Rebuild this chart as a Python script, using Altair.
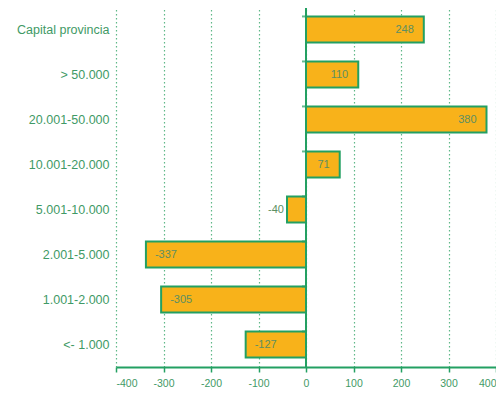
import altair as alt
import pandas as pd

labels = ["Capital provincia", "> 50.000", "20.001-50.000", "10.001-20.000",
          "5.001-10.000", "2.001-5.000", "1.001-2.000", "<- 1.000"]
values = [248, 110, 380, 71, -40, -337, -305, -127]
x_ticks = [-400, -300, -200, -100, 0, 100, 200, 300, 400]

df = pd.DataFrame({"cat": labels, "value": values})

GREEN = "#23a062"
TXT = "#3f9a66"
VTXT = "#5c8f62"
FILL = "#f8b21a"

y = alt.Y("cat:N", sort=labels, title=None,
          scale=alt.Scale(paddingInner=0.42, paddingOuter=0.21),
          axis=alt.Axis(domain=False, ticks=False, labelColor=TXT, labelFont="Liberation Sans",
                        labelFontSize=12.5, labelPadding=7, grid=False))
x = alt.X("value:Q", title=None,
          scale=alt.Scale(domain=[-400, 400], nice=False),
          axis=alt.Axis(values=x_ticks, domainColor=GREEN, domainWidth=2,
                        tickColor=GREEN, tickSize=5, tickWidth=1.5, labelColor=TXT,
                        labelFont="Liberation Sans", labelFontSize=10.5, labelPadding=6,
                        labelExpr="replace(datum.label, '\u2212', '-')",
                        grid=True, gridColor="#5fb888", gridDash=[1.5, 2.5], gridWidth=1.2))

base = alt.Chart(df).transform_calculate(lbl="toString(datum.value)")

bars = base.mark_bar(fill=FILL, stroke=GREEN, strokeWidth=2, cornerRadius=0).encode(x=x, y=y)

zero = base.mark_rule(color=GREEN, strokeWidth=2).encode(
    x=alt.datum(0), y=alt.value(0), y2=alt.value(360))

ticks = base.mark_tick(color=GREEN, thickness=2, size=4, orient="horizontal", xOffset=-2).encode(
    x=alt.datum(0), y=alt.Y("cat:N", sort=labels, bandPosition=0))

txt = dict(font="Liberation Sans", fontSize=11, color=VTXT)
pos = base.transform_filter("datum.value >= 0").mark_text(align="right", dx=-10, **txt).encode(
    x="value:Q", y=alt.Y("cat:N", sort=labels), text="lbl:N")
negs = base.transform_filter("datum.value < 0 && datum.value > -100").mark_text(
    align="right", dx=-3, **txt).encode(
    x="value:Q", y=alt.Y("cat:N", sort=labels), text="lbl:N")
negb = base.transform_filter("datum.value <= -100").mark_text(align="left", dx=9, **txt).encode(
    x="value:Q", y=alt.Y("cat:N", sort=labels), text="lbl:N")

chart = alt.layer(bars, zero, ticks, pos, negs, negb).properties(
    width=380, height=360,
    autosize=alt.AutoSizeParams(type="none"),
    padding={"left": 108, "top": -1, "right": 0, "bottom": 24},
    background="white",
).configure_view(stroke=None)

chart.save("out.html", embed_options={"renderer": "svg", "actions": False})
